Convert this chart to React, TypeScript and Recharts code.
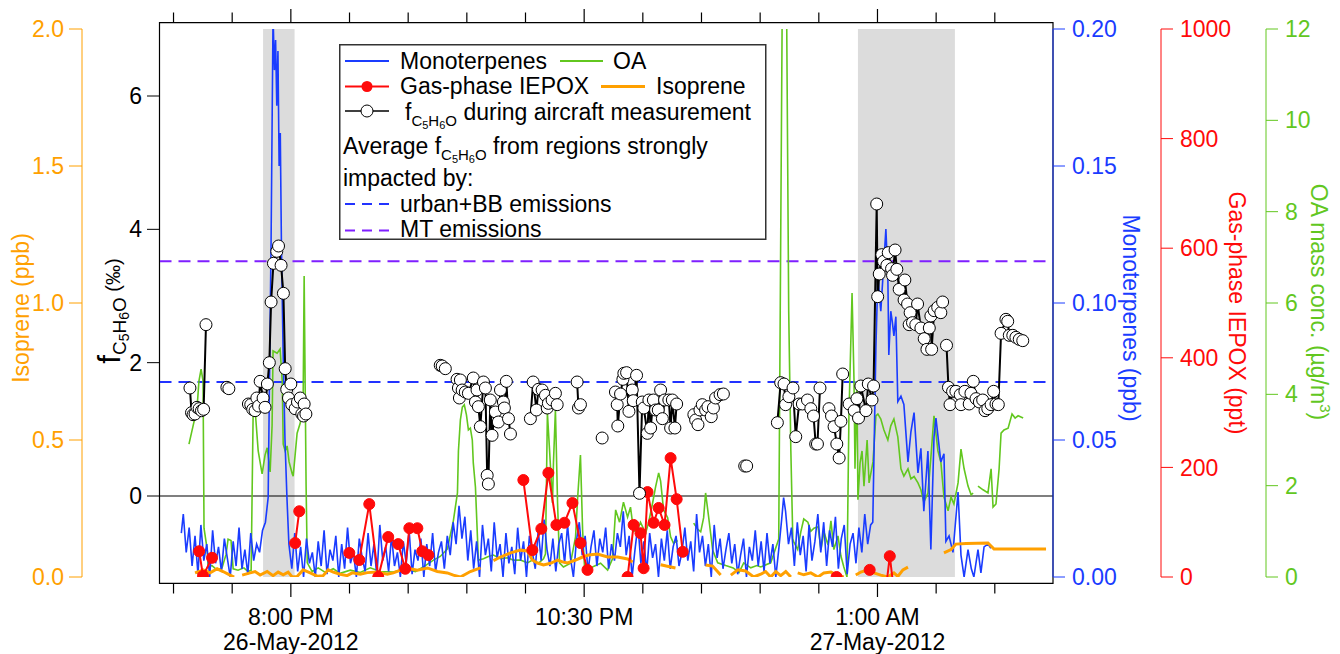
import React from "react";
import {
  ComposedChart,
  Line,
  XAxis,
  YAxis,
  ReferenceArea,
  ReferenceLine,
  Legend,
} from "recharts";

const FONT = "Liberation Sans, Arial, sans-serif";
const BLUE = "#1a3cff";
const GREEN = "#62c71f";
const RED = "#ff0a0a";
const ORANGE = "#ffa000";
const PURPLE = "#7f1fff";
const DASHBLUE = "#2233ff";

// time axis: minutes after 7:00 PM, 26-May-2012
const timeTicks = [0, 30, 60, 90, 120, 150, 180, 210, 240, 270, 300, 330, 360, 390, 420];
const timeLabels: Record<number, string[]> = {
  60: ["8:00 PM", "26-May-2012"],
  210: ["10:30 PM"],
  360: ["1:00 AM", "27-May-2012"],
};
const fTicks = [0, 2, 4, 6];
const isoTicks = [0, 0.5, 1, 1.5, 2];
const mtTicks = [0, 0.05, 0.1, 0.15, 0.2];
const iepoxTicks = [0, 200, 400, 600, 800, 1000];
const oaTicks = [0, 2, 4, 6, 8, 10, 12];

// shaded periods (aircraft overpass)
const shaded = [
  [45.8, 61.9],
  [350, 399.6],
];
// average fC5H6O lines
const urbanBB = 1.71;
const mtEmis = 3.52;

type P = [number, number | null];

const monoterpenes: P[] = [
  [4, 0.016], [5, 0.023], [6.5, 0.009], [8, 0.018], [9.5, 0.004], [11, 0.015], [12.5, 0.001], [14, 0.019],
  [15.5, 0.006], [17, 0.012], [18.5, 0.0], [20, 0.017], [21.5, 0.005], [23, 0.011], [24.5, 0.002], [26, 0.014],
  [27.5, 0.007], [29, 0.0], [30.5, 0.013], [32, 0.004], [33.5, 0.018], [35, 0.003], [36.5, 0.01], [38, 0.001],
  [39.5, 0.016], [41, 0.006], [42.5, 0.012], [44, 0.009], [45.5, 0.017], [47, 0.02], [48.4, 0.029], [49.9, 0.123],
  [50.9, 0.205], [51.6, 0.185], [52.2, 0.196], [52.8, 0.172], [53.4, 0.192], [54, 0.15], [54.6, 0.162], [55.2, 0.12],
  [56, 0.084], [57, 0.05], [58, 0.029], [59, 0.012], [60.5, 0.003], [62, 0.016], [63.5, 0.002], [65, 0.011],
  [66.5, 0.0], [68, 0.014], [69.5, 0.005], [71, 0.009], [72.5, 0.0], [74, 0.013], [75.5, 0.004], [77, 0.017],
  [78.5, 0.001], [80, 0.01], [81.5, 0.006], [83, 0.015], [84.5, 0.0], [86, 0.012], [87.5, 0.003], [89, 0.018],
  [90.5, 0.005], [92, 0.009], [93.5, 0.0], [95, 0.014], [96.5, 0.007], [98, 0.002], [99.5, 0.016], [101, 0.004],
  [102.5, 0.012], [104, 0.0], [105.5, 0.019], [107, 0.006], [108.5, 0.011], [110, 0.002], [111.5, 0.015], [113, 0.004],
  [114.5, 0.009], [116, 0.0], [117.5, 0.013], [119, 0.005], [120.5, 0.017], [122, 0.001], [123.5, 0.01], [125, 0.006],
  [126.5, 0.014], [128, 0.0], [129.5, 0.012], [131, 0.004], [132.5, 0.016], [134, 0.002], [135.5, 0.009], [137, 0.013],
  [138.5, 0.003], [140, 0.015], [141.5, 0.008], [143, 0.02], [144.5, 0.012], [146, 0.026], [147.5, 0.014], [149, 0.022],
  [150.5, 0.006], [152, 0.017], [153.5, 0.003], [155, 0.013], [156.5, 0.0], [158, 0.019], [159.5, 0.008], [161, 0.014],
  [162.5, 0.002], [164, 0.02], [165.5, 0.007], [167, 0.012], [168.5, 0.0], [170, 0.016], [171.5, 0.005], [173, 0.011],
  [174.5, 0.001], [176, 0.018], [177.5, 0.006], [179, 0.013], [180.5, 0.0], [182, 0.015], [183.5, 0.009], [185, 0.003],
  [186.5, 0.017], [188, 0.006], [189.5, 0.021], [191, 0.01], [192.5, 0.004], [194, 0.014], [195.5, 0.002], [197, 0.012],
  [198.5, 0.016], [200, 0.005], [201.5, 0.019], [203, 0.007], [204.5, 0.0], [206, 0.013], [207.5, 0.02], [209, 0.008],
  [210.5, 0.015], [212, 0.002], [213.5, 0.011], [215, 0.017], [216.5, 0.004], [218, 0.014], [219.5, 0.009], [221, 0.018],
  [222.5, 0.003], [224, 0.012], [225.5, 0.006], [227, 0.016], [228.5, 0.011], [230, 0.024], [231.5, 0.008], [233, 0.015],
  [234.5, 0.0], [236, 0.01], [237.5, 0.019], [239, 0.005], [240.5, 0.013], [242, 0.002], [243.5, 0.016], [245, 0.007],
  [246.5, 0.012], [248, 0.0], [249.5, 0.014], [251, 0.006], [252.5, 0.017], [254, 0.003], [255.5, 0.011], [257, 0.015],
  [258.5, 0.004], [260, 0.009], [261.5, 0.018], [263, 0.006], [264.5, 0.013], [266, 0.002], [267.5, 0.023], [269, 0.009],
  [270.5, 0.015], [272, 0.004], [273.5, 0.012], [275, 0.0], [276.5, 0.019], [278, 0.007], [279.5, 0.014], [281, 0.003],
  [282.5, 0.01], [284, 0.016], [285.5, 0.005], [287, 0.012], [288.5, 0.001], [290, 0.008], [291.5, 0.014], [293, 0.0],
  [294.5, 0.011], [296, 0.006], [297.5, 0.017], [299, 0.004], [300.5, 0.013], [302, 0.002], [303.5, 0.016], [305, 0.005],
  [306.5, 0.012], [308, 0.0], [309.5, 0.01], [311, 0.021], [312, 0.029], [313, 0.024], [314.5, 0.012], [316, 0.018],
  [317.5, 0.004], [319, 0.02], [320.5, 0.008], [322, 0.015], [323.5, 0.002], [325, 0.019], [326.5, 0.006], [328, 0.013],
  [329.5, 0.023], [331, 0.009], [332.5, 0.02], [334, 0.004], [335.5, 0.017], [337, 0.011], [338.5, 0.022], [340, 0.003],
  [341.5, 0.014], [343, 0.019], [344.5, 0.001], [346, 0.012], [347.5, 0.016], [349, 0.005], [350.5, 0.018], [352, 0.009],
  [353.5, 0.023], [355, 0.012], [356.5, 0.019], [357.6, 0.02], [359.2, 0.084], [360.2, 0.11], [361.7, 0.097], [364.3, 0.127],
  [365.3, 0.11], [365.8, 0.081], [366.8, 0.097], [367.6, 0.093], [368.4, 0.088], [369.4, 0.095], [370.4, 0.064], [372, 0.066],
  [373.5, 0.063], [375.6, 0.042], [377.1, 0.053], [378.7, 0.06], [380.7, 0.038], [382.2, 0.047], [383.7, 0.024], [385.8, 0.046],
  [387.3, 0.01], [388.9, 0.051], [389.9, 0.058], [392.4, 0.042], [394, 0.045], [395, 0.013], [396.6, 0.015], [398.6, 0.009],
  [401.2, 0.031], [402.7, 0.008], [404.3, 0.0], [406.3, 0.01], [408, 0.003], [409.3, 0.0], [411.4, 0.01], [412.9, 0.0015],
  [414.5, 0.011], [416.5, 0.012], [418, 0.0105],
];

const oa: P[] = [
  [7.9, 2.91], [10, 3.31], [12, 3.68], [13, 4.29], [14.1, 4.55], [15.1, 4.29], [15.6, 1.07], [17.2, 0.61],
  [17.7, 0.22], [19.7, 0.25], [22.3, 0.15], [24.8, 0.2], [26.9, 0.5], [27.9, 0.83], [29.4, 0.8], [30.5, 0.18],
  [33, 0.15], [36, 0.2], [38.1, 0.12], [39.7, 0.15], [40.7, 3.53], [41.7, 3.68], [43.3, 2.76], [45.3, 2.26],
  [46.8, 2.67], [47.9, 2.83], [49.4, 2.3], [50.4, 3.31], [50.9, 4.95], [53, 4.9], [54.5, 4.99], [55.6, 4.29],
  [56.1, 2.91], [57.1, 2.76], [58.1, 2.87], [59.1, 2.52], [60.7, 2.26], [61.2, 2.21], [63.2, 3.15], [64.8, 3.37],
  [66.3, 3.92], [66.8, 6.59], [67.8, 1.99], [68.4, 0.31], [70.9, 0.12], [74, 0.2], [77.6, 0.1], [81.7, 0.18],
  [85.2, 0.08], [90.4, 0.15], [95.5, 0.1], [100.6, 0.2], [105.7, 0.12], [112.4, 0.11], [118.5, 0.18], [123.7, 0.12],
  [128.8, 0.25], [132.9, 0.37], [136.4, 0.45], [140, 0.61], [143.1, 1.23], [145.2, 1.84], [145.7, 2.76], [146.7, 3.44],
  [147.7, 3.72], [148.7, 3.77], [149.8, 3.55], [150.8, 3.22], [151.8, 3.26], [152.8, 3.0], [153.3, 2.5], [154.4, 1.97],
  [155.9, 0.37], [158.5, 0.4], [161, 0.45], [163.6, 0.48], [167.2, 0.4], [170.8, 0.42], [173.8, 0.37], [177.4, 0.37],
  [181, 0.31], [183.5, 0.37], [186.6, 0.3], [189.2, 0.4], [190.2, 0.5], [191.2, 3.59], [192.3, 2.78], [193.8, 1.62],
  [194.3, 2.5], [195.3, 3.66], [196.4, 1.62], [197.4, 0.31], [199.4, 0.22], [203, 0.3], [205.6, 0.88], [206.6, 1.69],
  [208.1, 2.67], [209.2, 1.03], [210.2, 0.22], [213.2, 0.2], [218.4, 0.3], [222, 0.15], [224.5, 0.4], [226.1, 1.47],
  [228.1, 1.2], [230.1, 1.64], [232.2, 1.31], [233.7, 1.53], [235.3, 1.0], [237.3, 1.03], [238.8, 1.2], [241.4, 0.96],
  [243, 1.2], [245, 1.62], [246.5, 1.97], [248.1, 2.28], [249.1, 2.1], [250.6, 1.47], [252.7, 1.3], [254.2, 0.88],
  [255.7, 0.74], [257.8, 0.8], [262, null], [266, 1.18], [268, 1.05], [269.6, 0.99], [271.1, 1.3], [272.1, 1.84],
  [273.7, 1.3], [275.7, 0.59], [278.3, 0.31], [282.4, 0.25], [286.2, 0.2], [289.2, 0.1], [291.6, 0.31], [295.2, 0.2],
  [298.3, 0.25], [300.3, 0.22], [305.4, 0.31], [309.5, 0.83], [311.6, 14.5], [313.2, 14.5], [314.6, 5.83], [315.7, 2.76],
  [316.7, 0.83], [317.2, 0.77], [319.2, 0.6], [320.8, 0.99], [322.3, 1.27], [324.4, 1.2], [325.9, 1.0], [327.5, 1.07],
  [329.6, 1.1], [331.1, 0.6], [332.6, 0.99], [334.7, 0.7], [336.2, 1.23], [337.7, 0.6], [339.8, 0.9], [341.3, 0.46],
  [342.8, 0.22], [344.4, 0.0], [345.4, 3.53], [347, 6.22], [348, 4.29], [348.5, 2.37], [349.5, 4.29], [350, 1.69],
  [351.1, 2.5], [352.1, 2.76], [353.1, 1.99], [354.7, 3.0], [355.7, 2.06], [357.7, 2.52], [359.2, 3.53], [360.2, 3.57],
  [361.7, 3.46], [363.3, 3.22], [365.3, 3.0], [366.8, 3.31], [368.4, 3.46], [370.4, 3.07], [372, 2.37], [373.5, 2.21],
  [375.6, 2.37], [377.1, 2.15], [378.7, 2.2], [380.7, 2.06], [382.2, 1.91], [383.7, 1.64], [385.8, 1.84], [387.3, 2.61],
  [388.9, 3.53], [390.9, 2.76], [392.4, 2.52], [394, 1.75], [396.1, 1.45], [397.6, 1.75], [399.1, 1.6], [401.2, 2.06],
  [402.7, 2.8], [404.3, 2.37], [406.3, 1.99], [407.9, 1.8], [408.9, 1.84], [410, null], [411.4, 1.99], [414, 1.91],
  [416.5, 1.84], [418.1, 2.37], [419.1, 1.53], [420.6, 1.6], [422.2, 2.37], [423.2, 3.15], [424.7, 3.22], [426.8, 3.26],
  [428.8, 3.57], [430.4, 3.48], [431.9, 3.53], [434.5, 3.48],
];

const isoprene: P[] = [
  [11, 0.015], [13.1, 0.02], [15.1, 0.026], [18.7, 0.015], [22.3, 0.03], [25.3, 0.02], [28.9, 0.007], [31, 0.0],
  [33, null], [35.1, 0.007], [39.2, 0.015], [41.7, 0.02], [44.3, 0.007], [47.9, 0.02], [50.9, 0.005], [53.5, 0.018],
  [56.1, 0.008], [58.6, 0.018], [60.7, 0.0], [63.2, 0.002], [66.3, 0.026], [69.9, 0.015], [73.5, 0.003], [76.5, 0.005],
  [79.1, 0.026], [81.7, 0.018], [85.2, 0.01], [88.8, 0.005], [91.4, 0.015], [95.5, 0.01], [99.1, 0.016], [104.2, 0.018],
  [109.3, 0.01], [112.4, 0.015], [116, 0.025], [118.5, 0.044], [121.1, 0.03], [124.7, 0.025], [129.8, 0.033], [134.9, 0.02],
  [140, 0.015], [143.1, 0.007], [146.7, 0.0], [151.8, 0.02], [157, 0.033], [160, null], [163.6, 0.06], [167.2, 0.073],
  [172.3, 0.088], [177.4, 0.098], [181, 0.095], [183.5, 0.062], [186.1, 0.051], [189.2, 0.044], [192.8, 0.05], [196.4, 0.062],
  [198.9, 0.055], [201.5, 0.051], [205.6, 0.062], [209.2, 0.073], [212.2, 0.08], [216.8, 0.084], [222, 0.073], [227.1, 0.073],
  [232.2, 0.066], [234.8, 0.055], [240, null], [249.1, 0.045], [252, 0.04], [256.7, 0.033], [260, null], [272.1, 0.044],
  [275.7, 0.04], [279.8, 0.007], [282, null], [285, 0.007], [288.6, 0.026], [292.6, 0.022], [296.7, 0.0], [300.3, 0.01],
  [302.8, 0.02], [305.4, 0.0], [308, 0.02], [310.5, 0.005], [313.1, 0.02], [315.7, 0.0], [317, null], [319.2, 0.015],
  [322.3, 0.008], [325.9, 0.015], [329.6, 0.0], [332.6, 0.015], [336.2, 0.018], [339.8, 0.005], [342.8, 0.0], [345, null],
  [348.9, 0.007], [351.5, 0.018], [355.1, 0.026], [358.2, 0.015], [361.7, 0.007], [365.3, 0.0], [368.4, 0.015], [370.4, 0.002],
  [373, 0.026], [375.6, 0.036], [380, null], [394, 0.088], [397.6, 0.1], [400.1, 0.12], [405.3, 0.122], [416.5, 0.124],
  [419.6, 0.102], [428.3, 0.102], [446.2, 0.102],
];

const iepox: P[] = [
  [13.1, 47], [15.1, 2], [19.7, 35], [30, null], [62.2, 62], [64.3, 120], [75, null], [89.9, 44],
  [95, 31], [100.1, 133], [104.7, 0], [109.8, 73], [114.9, 60], [118.5, 15], [120.6, 89], [124.7, 89],
  [127.2, 47], [130.3, 40], [150, null], [178.9, 177], [183.5, 49], [188.1, 88], [191.7, 190], [195.8, 95],
  [199.9, 99], [204, 135], [208.1, 62], [211.7, 13], [220, null], [232.2, 0], [235.3, 95], [238.8, 80],
  [240.4, 16], [242.4, 155], [245.5, 99], [248.1, 126], [251.1, 95], [254.2, 217], [257.3, 142], [260.4, 46],
  [300, null], [339.1, 0], [345, null], [356, 13], [360, null], [363.7, -40], [366.3, 38], [368.9, -40],
];

const fC5H6O: P[] = [
  [8.4, 1.62], [9.2, 1.25], [10, 1.22], [11, 1.23], [12, 1.33], [13.1, 1.31], [14.3, 1.28], [15.4, 1.3],
  [16.6, 2.57], [20, null], [27.3, 1.63], [28.3, 1.61], [33, null], [38.3, 1.38], [39.5, 1.37], [40.5, 1.3],
  [41.7, 1.28], [42.6, 1.47], [43.5, 1.35], [44.3, 1.72], [45.8, 1.47], [46.8, 1.33], [48, 1.68], [49, 2.0],
  [49.9, 2.91], [51.1, 3.49], [52.8, 3.67], [53.7, 3.75], [55, 3.46], [56.2, 3.04], [57.1, 1.91], [57.9, 1.6],
  [58.8, 1.47], [60, 1.68], [60.5, 1.37], [62.2, 1.31], [63.4, 1.41], [64.8, 1.47], [65.6, 1.23], [66.5, 1.2],
  [66.8, 1.38], [67.7, 1.23], [100, null], [136.4, 1.96], [137.4, 1.95], [139, 1.91], [142, null], [145, 1.75],
  [145.7, 1.62], [146.2, 1.47], [146.7, 1.74], [147.6, 1.59], [149.2, 1.56], [150.8, 1.54], [153.3, 1.77], [154.4, 1.41],
  [155.2, 1.59], [155.9, 1.34], [156.9, 1.04], [158.5, 1.71], [159.5, 1.62], [160.4, 0.31], [161, 0.18], [162, 1.44],
  [162.9, 0.91], [164.6, 1.26], [166.1, 1.11], [167.2, 1.59], [168.7, 1.41], [169.2, 1.32], [170.2, 1.72], [171.3, 1.16],
  [172.3, 0.93], [177, null], [182.5, 1.16], [183.9, 1.71], [185.6, 1.29], [186.6, 1.6], [188.5, 1.59], [190.2, 1.51],
  [191.1, 1.32], [191.7, 1.39], [193.6, 1.44], [195.3, 1.54], [196.2, 1.37], [200, null], [206.4, 1.71], [207.1, 1.32],
  [208.1, 1.37], [213, null], [219.2, 0.87], [222, null], [226, 1.56], [226.9, 1.37], [227.2, 1.05], [228.6, 1.53],
  [229.8, 1.75], [230.3, 1.84], [231.7, 1.85], [232.9, 1.27], [234.6, 1.59], [235.1, 1.43], [236.8, 1.81], [238.3, 0.04],
  [239.7, 1.41], [240.5, 1.32], [242.3, 0.94], [243.1, 1.44], [244, 1.02], [245.4, 1.44], [246.5, 1.29], [247.9, 1.29],
  [249.1, 1.59], [250, 1.16], [251.1, 1.44], [253.3, 1.44], [254.2, 1.02], [255.1, 1.44], [256.4, 1.02], [257.3, 1.38],
  [262, null], [266.1, 1.22], [267, 1.14], [268.2, 1.07], [269.2, 1.29], [270.4, 1.37], [272.1, 1.29], [273.3, 1.34],
  [275, 1.19], [276.1, 1.32], [277.2, 1.47], [279.5, 1.52], [281.2, 1.53], [286, null], [292.1, 0.45], [293.1, 0.45],
  [300, null], [308.8, 1.1], [310.5, 1.7], [312.2, 1.68], [313, 1.37], [314.7, 1.49], [316.8, 1.62], [318.2, 0.89],
  [319.9, 1.38], [321.6, 1.38], [324.2, 1.44], [325.9, 1.31], [327.3, 1.2], [328.4, 0.78], [329.3, 0.78], [330.6, 1.62],
  [333, null], [335.2, 1.31], [336.5, 1.2], [337.8, 1.04], [339.2, 0.78], [340.4, 0.57], [341.3, 1.12], [342.2, 1.83],
  [344, null], [345.5, 1.38], [348.1, 1.28], [349.5, 1.46], [350.3, 1.17], [351.5, 1.65], [354.1, 1.28], [355.3, 1.68],
  [357.2, 1.44], [358, 1.65], [359.6, 4.38], [360.1, 2.99], [360.9, 3.33], [362.2, 3.62], [363.1, 3.52], [364.8, 3.46],
  [365.5, 3.65], [367.2, 3.41], [367.7, 3.31], [369, 3.69], [369.9, 3.4], [371.1, 3.1], [373.6, 2.94], [374, 3.24],
  [375.4, 2.88], [376.2, 2.57], [376.7, 2.75], [377.9, 2.6], [379.6, 2.57], [380.5, 2.88], [382.2, 2.52], [383.9, 2.36],
  [385.3, 2.2], [386.5, 2.52], [387.3, 2.7], [387.7, 2.2], [389, 2.78], [390.8, 2.83], [392.4, 2.75], [393.3, 2.91],
  [394.3, null], [395.3, 2.26], [396.3, 1.63], [397.1, 1.37], [398.4, 1.57], [400.1, 1.57], [402.3, 1.52], [402.7, 1.37],
  [404.7, 1.57], [406.9, 1.38], [407.8, 1.54], [409, 1.72], [410.4, 1.46], [412.1, 1.41], [413.8, 1.44], [415, 1.28],
  [416.4, 1.31], [418.1, 1.37], [419.4, 1.57], [420.6, 1.38], [421.8, 1.37], [423.2, 2.44], [425.7, 2.65], [426.6, 2.62],
  [427.4, 2.41], [429.2, 2.41], [430.8, 2.38], [432.5, 2.35], [434.3, 2.33],
];

const toPts = (arr: P[]) => arr.map(([t, v]) => ({ t, v }));

const X_DOMAIN: [number, number] = [-7.17, 449.76];
const F_DOMAIN: [number, number] = [-1.215, 7.005];

function BottomTick(props: any) {
  const { x, y, payload } = props;
  const lab = timeLabels[payload.value];
  return (
    <g>
      <line x1={x} x2={x} y1={y + 6.5} y2={y + 6.5 + (lab ? 13.5 : 10)} stroke="#000" strokeWidth={1.2} />
      {lab && (
        <text x={x} y={y + 48} textAnchor="middle" fontSize={23} fontFamily={FONT} fill="#000">
          {lab[0]}
        </text>
      )}
      {lab && lab[1] && (
        <text x={x} y={y + 73} textAnchor="middle" fontSize={23} fontFamily={FONT} fill="#000">
          {lab[1]}
        </text>
      )}
    </g>
  );
}

function TopTick(props: any) {
  const { x, y, payload } = props;
  const major = !!timeLabels[payload.value];
  return <line x1={x} x2={x} y1={y - 6.5} y2={y - 6.5 - (major ? 13.5 : 10)} stroke="#000" strokeWidth={1.2} />;
}

function Sub({ big, small, dy }: { big: number; small: number; dy: number }) {
  // C5H6O subscript chain
  return (
    <>
      <tspan fontSize={big} dy={dy}>C</tspan>
      <tspan fontSize={small} dy={dy * 0.5}>5</tspan>
      <tspan fontSize={big} dy={-dy * 0.5}>H</tspan>
      <tspan fontSize={small} dy={dy * 0.5}>6</tspan>
      <tspan fontSize={big} dy={-dy * 0.5}>O</tspan>
    </>
  );
}

function FTitle() {
  return (
    <text transform="translate(120 311) rotate(-90)" textAnchor="middle" fontFamily={FONT} fill="#000">
      <tspan fontSize={31}>f</tspan>
      <Sub big={19} small={14} dy={6} />
      <tspan fontSize={20} dy={-6}>{" (‰)"}</tspan>
    </text>
  );
}

// axis title at a fixed spot; prop names kept apart from the ones Recharts injects
function RotTitle({ px, py, rot, color, text, sup, tail }: any) {
  return (
    <text
      transform={`translate(${px} ${py}) rotate(${rot})`}
      textAnchor="middle"
      fontFamily={FONT}
      fontSize={23}
      fill={color}
    >
      {text}
      {sup && <tspan fontSize={15} dy={-9}>{sup}</tspan>}
      {tail && <tspan dy={9}>{tail}</tspan>}
    </text>
  );
}

function LegendBox() {
  const ts = { fontFamily: FONT, fontSize: 23, fill: "#000" };
  return (
    <svg width={428} height={197} style={{ display: "block" }}>
      <rect x={0.75} y={0.75} width={426} height={194.5} fill="#fff" stroke="#333" strokeWidth={1.5} />
      <line x1={6} x2={50} y1={17} y2={17} stroke={BLUE} strokeWidth={2} />
      <text x={61} y={24.5} {...ts}>Monoterpenes</text>
      <line x1={221} x2={264} y1={17} y2={17} stroke={GREEN} strokeWidth={2} />
      <text x={274} y={24.5} {...ts}>OA</text>

      <line x1={6} x2={50} y1={42.5} y2={42.5} stroke={RED} strokeWidth={2} />
      <circle cx={28} cy={42.5} r={5.5} fill={RED} />
      <text x={61} y={50} {...ts}>Gas-phase IEPOX</text>
      <line x1={262} x2={306} y1={42.5} y2={42.5} stroke={ORANGE} strokeWidth={3} />
      <text x={317} y={50} {...ts}>Isoprene</text>

      <line x1={6} x2={50} y1={67} y2={67} stroke="#000" strokeWidth={1.5} />
      <circle cx={28} cy={67} r={6} fill="#fff" stroke="#000" strokeWidth={1} />
      <text x={66} y={76} {...ts}>
        f<Sub big={15} small={11} dy={6} />
        <tspan dy={-6}>{" during aircraft measurement"}</tspan>
      </text>

      <text x={4} y={110} {...ts}>
        Average f<Sub big={15} small={11} dy={6} />
        <tspan dy={-6}>{" from regions strongly"}</tspan>
      </text>
      <text x={4} y={142} {...ts}>impacted by:</text>

      <line x1={6} x2={51} y1={160} y2={160} stroke={DASHBLUE} strokeWidth={2} strokeDasharray="10 7" />
      <text x={61} y={168} {...ts}>urban+BB emissions</text>
      <line x1={6} x2={51} y1={186.5} y2={186.5} stroke={PURPLE} strokeWidth={2} strokeDasharray="10 7" />
      <text x={61} y={193} {...ts}>MT emissions</text>
    </svg>
  );
}

const tickFont = (color: string) => ({ fill: color, fontSize: 23, fontFamily: FONT });

export default function App() {
  return (
    <div style={{ position: "absolute", left: 0, top: 0, background: "#fff" }}>
      <ComposedChart width={1340} height={654} margin={{ top: 0, right: 0, bottom: 0, left: 0 }}>
        <XAxis
          dataKey="t"
          type="number"
          domain={X_DOMAIN}
          allowDataOverflow
          ticks={timeTicks}
          interval={0}
          height={77}
          tickSize={0}
          tickMargin={0}
          axisLine={false}
          tickLine={false}
          tick={<BottomTick />}
        />
        <XAxis
          xAxisId="top"
          orientation="top"
          dataKey="t"
          type="number"
          domain={X_DOMAIN}
          allowDataOverflow
          ticks={timeTicks}
          interval={0}
          height={29}
          tickSize={0}
          tickMargin={0}
          axisLine={false}
          tickLine={false}
          tick={<TopTick />}
        />
        <YAxis
          yAxisId="a1_f"
          orientation="left"
          width={77.5}
          domain={F_DOMAIN}
          allowDataOverflow
          ticks={fTicks}
          interval={0}
          tickSize={12.5}
          tickMargin={5}
          stroke="#000"
          tick={tickFont("#000")}
          label={<FTitle />}
        />
        <YAxis
          yAxisId="a2_iso"
          orientation="left"
          width={82}
          domain={[0, 2]}
          allowDataOverflow
          ticks={isoTicks}
          interval={0}
          tickSize={13}
          tickMargin={5}
          stroke={ORANGE}
          tick={tickFont(ORANGE)}
          tickFormatter={(v: number) => v.toFixed(1)}
          label={<RotTitle px={29} py={308} rot={-90} color={ORANGE} text="Isoprene (ppb)" />}
        />
        <YAxis
          yAxisId="b1_mt"
          orientation="right"
          width={108}
          domain={[0, 0.2]}
          allowDataOverflow
          ticks={mtTicks}
          interval={0}
          tickSize={12}
          tickMargin={7}
          stroke={BLUE}
          tick={tickFont(BLUE)}
          tickFormatter={(v: number) => v.toFixed(2)}
          label={<RotTitle px={1123} py={318} rot={90} color={BLUE} text="Monoterpenes (ppb)" />}
        />
        <YAxis
          yAxisId="b2_iepox"
          orientation="right"
          width={105}
          domain={[0, 1000]}
          allowDataOverflow
          ticks={iepoxTicks}
          interval={0}
          tickSize={12}
          tickMargin={7}
          stroke={RED}
          tick={tickFont(RED)}
          label={<RotTitle px={1229} py={313} rot={90} color={RED} text="Gas-phase IEPOX (ppt)" />}
        />
        <YAxis
          yAxisId="b3_oa"
          orientation="right"
          width={74}
          domain={[0, 12]}
          allowDataOverflow
          ticks={oaTicks}
          interval={0}
          tickSize={12}
          tickMargin={7}
          stroke={GREEN}
          tick={tickFont(GREEN)}
          label={
            <RotTitle px={1311} py={302} rot={90} color={GREEN} text="OA mass conc. (µg/m" sup="3" tail=")" />
          }
        />

        {shaded.map(([a, b], i) => (
          <ReferenceArea
            key={i}
            yAxisId="a1_f"
            x1={a}
            x2={b}
            y1={F_DOMAIN[0]}
            y2={F_DOMAIN[1]}
            fill="#dcdcdc"
            fillOpacity={1}
            stroke="none"
            ifOverflow="visible"
          />
        ))}
        <ReferenceLine yAxisId="a1_f" y={0} stroke="#000" strokeWidth={1.2} />
        <ReferenceLine yAxisId="a1_f" y={urbanBB} stroke={DASHBLUE} strokeWidth={2} strokeDasharray="12 7" />
        <ReferenceLine yAxisId="a1_f" y={mtEmis} stroke={PURPLE} strokeWidth={2} strokeDasharray="12 7" />

        <Line
          yAxisId="b3_oa"
          data={toPts(oa)}
          dataKey="v"
          stroke={GREEN}
          strokeWidth={1.6}
          dot={false}
          activeDot={false}
          isAnimationActive={false}
        />
        <Line
          yAxisId="b1_mt"
          data={toPts(monoterpenes)}
          dataKey="v"
          stroke={BLUE}
          strokeWidth={1.6}
          dot={false}
          activeDot={false}
          isAnimationActive={false}
        />
        <Line
          yAxisId="a2_iso"
          data={toPts(isoprene)}
          dataKey="v"
          stroke={ORANGE}
          strokeWidth={3}
          dot={false}
          activeDot={false}
          isAnimationActive={false}
        />
        <Line
          yAxisId="b2_iepox"
          data={toPts(iepox)}
          dataKey="v"
          stroke={RED}
          strokeWidth={2}
          dot={{ r: 5.5, fill: RED, stroke: RED, strokeWidth: 1 }}
          activeDot={false}
          isAnimationActive={false}
        />
        <Line
          yAxisId="a1_f"
          data={toPts(fC5H6O)}
          dataKey="v"
          stroke="#000"
          strokeWidth={2}
          dot={{ r: 6, fill: "#fff", stroke: "#000", strokeWidth: 1 }}
          activeDot={false}
          isAnimationActive={false}
        />

        <ReferenceArea
          yAxisId="a1_f"
          x1={X_DOMAIN[0]}
          x2={X_DOMAIN[1]}
          y1={-1.312}
          y2={7.102}
          fill="none"
          stroke="#000"
          strokeWidth={1.2}
          ifOverflow="visible"
        />
        <Legend
          layout="horizontal"
          verticalAlign="middle"
          align="center"
          wrapperStyle={{ left: 339, top: 44, width: 428, height: 197, lineHeight: 0 }}
          content={() => <LegendBox />}
        />
      </ComposedChart>
    </div>
  );
}
